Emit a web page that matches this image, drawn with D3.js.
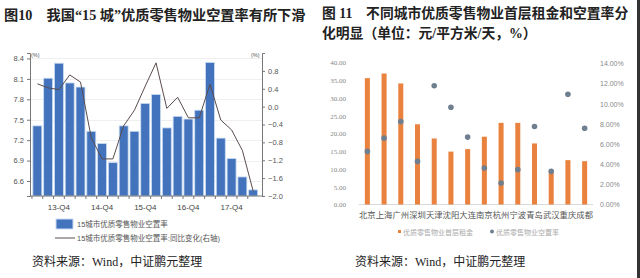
<!DOCTYPE html>
<html>
<head>
<meta charset="utf-8">
<script src="https://cdn.jsdelivr.net/npm/d3@7"></script>
<style>
  body { margin: 0; background: #fff; }
  svg { display: block; }
</style>
</head>
<body>
<svg id="chart" width="640" height="278"></svg>
<script>
/* global d3 */

// --- left chart: 15 cities vacancy ---
var quarters = ["13-Q2","13-Q3","13-Q4","14-Q1","14-Q2","14-Q3","14-Q4","15-Q1","15-Q2","15-Q3","15-Q4",
  "16-Q1","16-Q2","16-Q3","16-Q4","17-Q1","17-Q2","17-Q3","17-Q4","18-Q1","18-Q2"];
var vacancy15 = [7.41,8.11,8.33,8.04,7.98,7.33,7.15,6.87,7.41,7.33,7.74,7.87,7.38,7.55,7.51,7.64,8.34,7.23,6.93,6.66,6.47];
var vacancyYoY = [0.51,0.42,0.38,0.71,0.55,-0.70,-1.17,-1.17,-0.43,-0.08,0.46,0.98,-0.04,0.21,-0.25,-0.25,0.50,-0.30,-0.52,-0.98,-1.89];
var leftTicks = [6.6,6.9,7.2,7.5,7.8,8.1,8.4];
var rightTicks = [-2.0,-1.6,-1.2,-0.8,-0.4,0.0,0.4,0.8];
var quarterLabels = ["13-Q4","14-Q4","15-Q4","16-Q4","17-Q4"];

// --- right chart: rent & vacancy by city ---
var cities = ["北京","上海","广州","深圳","天津","沈阳","大连","南京","杭州","宁波","青岛","武汉","重庆","成都"];
var rent = [35.6,36.9,34.1,22.6,18.6,14.9,15.6,19.1,23.0,23.0,17.2,9.0,12.5,12.2];
var vacancyRate = [5.27,6.59,8.23,4.28,11.79,9.65,6.69,3.62,2.14,3.46,7.74,3.29,10.94,7.57];
var rentTicks = [0,5,10,15,20,25,30,35,40];
var rateTicks = [0,2,4,6,8,10,12,14];

var svg = d3.select("#chart");
var cjk = "'Liberation Serif','Noto Sans CJK SC',serif";
var sans = "'Liberation Sans','Noto Sans CJK SC',sans-serif";

// titles
svg.append("text").attr("x", 4).attr("y", 20)
  .attr("font-family", cjk).attr("font-weight", "bold").attr("font-size", 14.2).attr("fill", "#222")
  .text("图10\u2003我国“15 城”优质零售物业空置率有所下滑");
svg.append("text").attr("x", 322).attr("y", 18)
  .attr("font-family", cjk).attr("font-weight", "bold").attr("font-size", 13.8).attr("fill", "#222")
  .text("图 11\u2003不同城市优质零售物业首层租金和空置率分");
svg.append("text").attr("x", 322).attr("y", 38)
  .attr("font-family", cjk).attr("font-weight", "bold").attr("font-size", 13.8).attr("fill", "#222")
  .text("化明显（单位：元/平方米/天，%）");

// sources
[32, 355].forEach(function (x) {
  svg.append("text").attr("x", x).attr("y", 266)
    .attr("font-family", cjk).attr("font-size", 12).attr("fill", "#222")
    .text("资料来源：Wind，中证鹏元整理");
});

// ================= LEFT CHART =================
var L = svg.append("g").attr("class", "left");
var xL = d3.scaleBand().domain(quarters).range([32, 258.5]).paddingInner(0.17).paddingOuter(0.08);
var yL = d3.scaleLinear().domain([6.38, 8.48]).range([196, 53]);
var yR = d3.scaleLinear().domain([-2.0, 1.2]).range([196, 53]);

// faint grid
L.append("g").selectAll("line").data(leftTicks).join("line")
  .attr("x1", 30).attr("x2", 262)
  .attr("y1", function (d) { return Math.round(yL(d)) + 0.5; })
  .attr("y2", function (d) { return Math.round(yL(d)) + 0.5; })
  .attr("stroke", "#efefef");

L.append("g").selectAll("rect").data(vacancy15).join("rect")
  .attr("x", function (d, i) { return xL(quarters[i]); })
  .attr("width", xL.bandwidth())
  .attr("y", function (d) { return yL(d); })
  .attr("height", function (d) { return 196 - yL(d); })
  .attr("fill", "#4473bd")
  .attr("stroke", "#c9dcf2").attr("stroke-width", 0.8);

var lineYoY = d3.line()
  .x(function (d, i) { return xL(quarters[i]) + xL.bandwidth() / 2; })
  .y(function (d) { return yR(d); });
L.append("path").datum(vacancyYoY)
  .attr("d", lineYoY).attr("fill", "none")
  .attr("stroke", "#5b4c4c").attr("stroke-width", 1);

var axL = L.append("g").attr("transform", "translate(30,0)")
  .call(d3.axisLeft(yL).tickValues(leftTicks).tickSize(3).tickFormat(d3.format(".1f")));
axL.selectAll("text").attr("font-family", sans).attr("font-size", 7.5).attr("fill", "#555");
axL.select(".domain").attr("stroke", "#777");
axL.selectAll(".tick line").attr("stroke", "#777");

var axR = L.append("g").attr("transform", "translate(262,0)")
  .call(d3.axisRight(yR).tickValues(rightTicks).tickSize(3).tickFormat(d3.format(".1f")));
axR.selectAll("text").attr("font-family", sans).attr("font-size", 7.5).attr("fill", "#555");
axR.select(".domain").attr("stroke", "#777");
axR.selectAll(".tick line").attr("stroke", "#777");

var axX = L.append("g").attr("transform", "translate(0,196)");
axX.append("line").attr("x1", 30).attr("x2", 262).attr("stroke", "#777");
axX.selectAll("line.tk").data(quarters).join("line").attr("class", "tk")
  .attr("x1", function (d) { return xL(d) - xL.step() * xL.paddingInner() / 2; })
  .attr("x2", function (d) { return xL(d) - xL.step() * xL.paddingInner() / 2; })
  .attr("y1", 0).attr("y2", 3).attr("stroke", "#777");
axX.selectAll("text").data(quarterLabels).join("text")
  .attr("x", function (d) { return xL(d) + xL.bandwidth() / 2; })
  .attr("y", 14).attr("text-anchor", "middle")
  .attr("font-family", sans).attr("font-size", 8).attr("fill", "#444")
  .text(function (d) { return d; });

L.append("text").attr("x", 31).attr("y", 57).attr("font-family", sans).attr("font-size", 5.5).attr("fill", "#555").text("(%)");
L.append("text").attr("x", 251).attr("y", 57).attr("font-family", sans).attr("font-size", 5.5).attr("fill", "#555").text("(%)");

// legend
L.append("rect").attr("x", 56).attr("y", 219).attr("width", 17).attr("height", 10)
  .attr("fill", "#4473bd").attr("stroke", "#c9dcf2");
L.append("text").attr("x", 77).attr("y", 227).attr("font-family", sans).attr("font-size", 7.5).attr("fill", "#555")
  .text("15城市优质零售物业空置率");
L.append("line").attr("x1", 55).attr("x2", 75).attr("y1", 238).attr("y2", 238).attr("stroke", "#5b4c4c");
L.append("text").attr("x", 77).attr("y", 241).attr("font-family", sans).attr("font-size", 7.5).attr("fill", "#555")
  .text("15城市优质零售物业空置率:同比变化(右轴)");

// ================= RIGHT CHART =================
var R = svg.append("g").attr("class", "right");
var xC = d3.scaleBand().domain(cities).range([359, 593]).paddingInner(0.7).paddingOuter(0.35);
var yRent = d3.scaleLinear().domain([0, 40]).range([204.5, 62.5]);
var yRate = d3.scaleLinear().domain([0, 14]).range([204.5, 63.5]);

R.append("line").attr("x1", 359).attr("x2", 593).attr("y1", 204.5).attr("y2", 204.5).attr("stroke", "#d9d9d9");

R.append("g").selectAll("rect").data(rent).join("rect")
  .attr("x", function (d, i) { return xC(cities[i]); })
  .attr("width", xC.bandwidth())
  .attr("y", function (d) { return yRent(d); })
  .attr("height", function (d) { return 204.5 - yRent(d); })
  .attr("fill", "#e8823e");

R.append("g").selectAll("circle").data(vacancyRate).join("circle")
  .attr("cx", function (d, i) { return xC(cities[i]) + xC.bandwidth() / 2; })
  .attr("cy", function (d) { return yRate(d); })
  .attr("r", 2.8)
  .attr("fill", "#6f7f8f");

var axRent = R.append("g").attr("transform", "translate(349,0)")
  .call(d3.axisLeft(yRent).tickValues(rentTicks).tickSize(0).tickFormat(d3.format(".2f")));
axRent.select(".domain").remove();
axRent.selectAll("text").attr("font-family", cjk).attr("font-size", 7).attr("fill", "#888");

var axRate = R.append("g").attr("transform", "translate(597,0)")
  .call(d3.axisRight(yRate).tickValues(rateTicks).tickSize(0)
    .tickFormat(function (d) { return d.toFixed(2) + "%"; }));
axRate.select(".domain").remove();
axRate.selectAll("text").attr("font-family", sans).attr("font-size", 7).attr("fill", "#888");

R.append("g").selectAll("text").data(cities).join("text")
  .attr("x", function (d) { return xC(d) + xC.bandwidth() / 2; })
  .attr("y", 218).attr("text-anchor", "middle")
  .attr("font-family", cjk).attr("font-size", 8.3).attr("fill", "#555")
  .text(function (d) { return d; });

// right legend
R.append("rect").attr("x", 398).attr("y", 230).attr("width", 3).attr("height", 3).attr("fill", "#e8823e");
R.append("text").attr("x", 403).attr("y", 235).attr("font-family", cjk).attr("font-size", 7).attr("fill", "#aaa")
  .text("优质零售物业首层租金");
R.append("circle").attr("cx", 492).attr("cy", 231.5).attr("r", 2).attr("fill", "#6f7f8f");
R.append("text").attr("x", 496).attr("y", 235).attr("font-family", cjk).attr("font-size", 7).attr("fill", "#aaa")
  .text("优质零售物业空置率");

// dark scan edge at right
svg.append("rect").attr("x", 637).attr("y", 0).attr("width", 3).attr("height", 278).attr("fill", "#333");
</script>
</body>
</html>
